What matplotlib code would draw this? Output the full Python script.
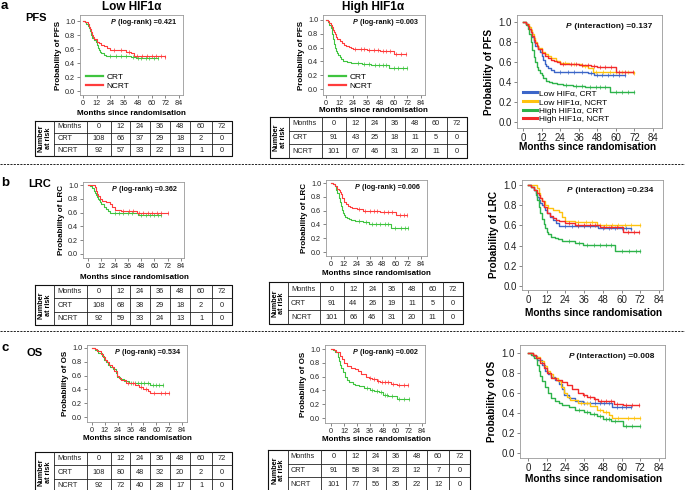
import numpy as np
import matplotlib
matplotlib.use("Agg")
import matplotlib.pyplot as plt

plt.rcParams["font.family"] = ["Liberation Sans", "DejaVu Sans"]

W, H = 685, 490

# ---- Kaplan-Meier curves (step times in months, survival after each step) ----
pfs_low_crt_t = [0, 2, 3, 4, 5, 6, 7, 8, 10, 11, 12, 13, 14, 15, 16, 18, 20, 42, 46, 66]
pfs_low_crt_s = [1.0, 0.98, 0.96, 0.93, 0.90, 0.85, 0.80, 0.76, 0.73, 0.70, 0.66, 0.62, 0.58, 0.56, 0.54, 0.52, 0.50, 0.49, 0.47, 0.47]
pfs_low_ncrt_t = [0, 2, 4, 5, 6, 7, 8, 9, 10, 12, 14, 16, 18, 21, 24, 30, 38, 42, 45, 72]
pfs_low_ncrt_s = [1.0, 0.98, 0.95, 0.92, 0.88, 0.84, 0.80, 0.77, 0.74, 0.70, 0.68, 0.66, 0.64, 0.61, 0.59, 0.58, 0.56, 0.54, 0.50, 0.49]
pfs_high_crt_t = [0, 2, 3, 4, 5, 6, 7, 8, 9, 10, 11, 12, 13, 15, 17, 19, 22, 26, 32, 40, 56, 72]
pfs_high_crt_s = [1.0, 0.97, 0.93, 0.88, 0.80, 0.72, 0.65, 0.60, 0.55, 0.52, 0.49, 0.47, 0.44, 0.41, 0.40, 0.39, 0.38, 0.37, 0.36, 0.35, 0.30, 0.30]
pfs_high_ncrt_t = [0, 2, 3, 4, 5, 6, 7, 8, 9, 10, 12, 14, 16, 18, 20, 22, 24, 30, 36, 44, 48, 60, 71]
pfs_high_ncrt_s = [1.0, 0.98, 0.96, 0.93, 0.90, 0.86, 0.82, 0.79, 0.76, 0.73, 0.69, 0.66, 0.64, 0.62, 0.61, 0.60, 0.58, 0.58, 0.57, 0.56, 0.55, 0.50, 0.50]

lrc_low_crt_t = [0, 2, 4, 5, 6, 7, 8, 9, 10, 11, 12, 14, 16, 18, 20, 45, 66]
lrc_low_crt_s = [1.0, 0.98, 0.95, 0.92, 0.88, 0.85, 0.82, 0.80, 0.78, 0.75, 0.72, 0.68, 0.65, 0.62, 0.59, 0.57, 0.56]
lrc_low_ncrt_t = [0, 6, 7, 8, 9, 11, 13, 16, 20, 22, 24, 30, 44, 72]
lrc_low_ncrt_s = [1.0, 0.97, 0.92, 0.87, 0.84, 0.80, 0.77, 0.75, 0.73, 0.68, 0.64, 0.63, 0.60, 0.60]
lrc_high_crt_t = [0, 2, 4, 5, 6, 7, 8, 9, 10, 11, 12, 13, 15, 17, 19, 22, 30, 35, 56, 72]
lrc_high_crt_s = [1.0, 0.98, 0.95, 0.90, 0.85, 0.78, 0.72, 0.66, 0.61, 0.57, 0.53, 0.51, 0.49, 0.48, 0.47, 0.45, 0.43, 0.41, 0.35, 0.35]
lrc_high_ncrt_t = [0, 2, 4, 6, 7, 8, 9, 10, 12, 14, 16, 18, 20, 24, 30, 46, 61, 71]
lrc_high_ncrt_s = [1.0, 0.98, 0.95, 0.92, 0.90, 0.87, 0.84, 0.78, 0.72, 0.69, 0.67, 0.65, 0.64, 0.62, 0.60, 0.58, 0.53, 0.53]

os_low_crt_t = [0, 3, 6, 9, 11, 13, 15, 17, 20, 22, 23, 26, 30, 35, 54, 66]
os_low_crt_s = [1.0, 0.97, 0.93, 0.88, 0.82, 0.79, 0.76, 0.73, 0.69, 0.64, 0.58, 0.55, 0.52, 0.50, 0.46, 0.46]
os_low_ncrt_t = [0, 3, 5, 8, 10, 12, 14, 16, 19, 21, 23, 25, 27, 32, 40, 44, 48, 52, 54, 72]
os_low_ncrt_s = [1.0, 0.98, 0.96, 0.92, 0.87, 0.82, 0.79, 0.75, 0.72, 0.66, 0.60, 0.56, 0.53, 0.50, 0.47, 0.43, 0.41, 0.38, 0.35, 0.35]
os_high_crt_t = [0, 2, 4, 6, 7, 8, 9, 11, 13, 15, 17, 20, 22, 26, 30, 36, 40, 44, 48, 53, 61, 72]
os_high_crt_s = [1.0, 0.98, 0.95, 0.88, 0.82, 0.77, 0.72, 0.66, 0.60, 0.55, 0.52, 0.50, 0.48, 0.46, 0.43, 0.41, 0.39, 0.37, 0.34, 0.32, 0.27, 0.27]
os_high_ncrt_t = [0, 3, 5, 8, 10, 12, 15, 18, 22, 25, 28, 32, 35, 38, 42, 45, 55, 61, 71]
os_high_ncrt_s = [1.0, 0.98, 0.95, 0.90, 0.85, 0.80, 0.75, 0.73, 0.71, 0.68, 0.64, 0.60, 0.58, 0.56, 0.54, 0.52, 0.49, 0.48, 0.48]

# censoring times (small tick marks)
pfs_low_crt_c = [24, 29, 33, 38, 44, 48, 51, 55, 58, 62, 66]
pfs_low_ncrt_c = [27, 33, 40, 47, 52, 56, 60, 64, 68, 72]
pfs_high_crt_c = [28, 34, 38, 43, 47, 50, 53, 60, 64, 68, 72]
pfs_high_ncrt_c = [26, 31, 34, 38, 42, 46, 50, 53, 57, 62, 66, 71]
lrc_low_crt_c = [24, 28, 32, 36, 40, 48, 52, 56, 60, 63, 66]
lrc_low_ncrt_c = [32, 37, 41, 46, 50, 54, 58, 62, 66, 72]
lrc_high_crt_c = [26, 33, 38, 42, 46, 50, 53, 60, 65, 69, 72]
lrc_high_ncrt_c = [26, 32, 36, 40, 43, 49, 53, 57, 64, 68, 71]
os_low_crt_c = [36, 40, 43, 46, 49, 52, 57, 60, 63, 66]
os_low_ncrt_c = [34, 38, 46, 50, 58, 64, 68, 72]
os_high_crt_c = [33, 38, 42, 46, 50, 52, 56, 63, 67, 72]
os_high_ncrt_c = [36, 40, 43, 47, 50, 53, 57, 63, 67, 71]

# numbers at risk
risk_months = [0, 12, 24, 36, 48, 60, 72]
pfs_low_risk = ([108, 66, 37, 29, 18, 2, 0], [92, 57, 33, 22, 13, 1, 0])
pfs_high_risk = ([91, 43, 25, 18, 11, 5, 0], [101, 67, 46, 31, 20, 11, 0])
lrc_low_risk = ([108, 68, 38, 29, 18, 2, 0], [92, 59, 33, 24, 13, 1, 0])
lrc_high_risk = ([91, 44, 26, 19, 11, 5, 0], [101, 66, 46, 31, 20, 11, 0])
os_low_risk = ([108, 80, 48, 32, 20, 2, 0], [92, 72, 40, 28, 17, 1, 0])
os_high_risk = ([91, 58, 34, 23, 12, 7, 0], [101, 77, 56, 35, 22, 12, 0])

p_logrank = {"PFS": ("0.421", "0.003"), "LRC": ("0.362", "0.006"), "OS": ("0.534", "0.002")}
p_interaction = {"PFS": "0.137", "LRC": "0.234", "OS": "0.008"}

SUB_GREEN, SUB_RED = "#3fc43f", "#ff3c3c"
ALL_COLORS = ["#3c66c8", "#ffc20e", "#2db34a", "#f22a2a"]
ALL_LABELS = ["Low HIF\u03b1, CRT", "Low HIF1\u03b1, NCRT", "High HIF1\u03b1, CRT", "High HIF1\u03b1, NCRT"]

fig = plt.figure(figsize=(W / 100, H / 100), dpi=100)


def add_km_axes(box, refs, fs):
    bx0, by0, bx1, by1 = box
    x0, x84, y0, y1 = refs
    ppx = (x84 - x0) / 84
    ppy = y0 - y1
    ax = fig.add_axes([bx0 / W, 1 - by1 / H, (bx1 - bx0) / W, (by1 - by0) / H])
    ax.set_xlim((bx0 - x0) / ppx, (bx1 - x0) / ppx)
    ax.set_ylim((y0 - by1) / ppy, (y0 - by0) / ppy)
    ax.set_xticks(range(0, 85, 12))
    ax.set_yticks([0, 0.2, 0.4, 0.6, 0.8, 1.0])
    ax.set_yticklabels(["0.0", "0.2", "0.4", "0.6", "0.8", "1.0"])
    ax.tick_params(labelsize=fs, length=2, width=0.5, pad=1.5, colors="#555555", labelcolor="#222222")
    for sp in ax.spines.values():
        sp.set_color("#999999")
        sp.set_linewidth(0.6)
    return ax


def km(ax, t, s, c, color, lw, label=None):
    ax.step(t, s, where="post", color=color, lw=lw, label=label)
    idx = np.searchsorted(t, c, side="right") - 1
    ax.plot(c, np.array(s)[idx], ls="none", marker="|", ms=2.2, mew=0.5, color=color)


def p_text(ax, name, value, fs):
    t = ax.text(0.93, 0.9, f" ({name}) ={value}", transform=ax.transAxes, ha="right", va="center",
                fontsize=fs, fontweight="bold", color="#111111")
    ax.annotate("P", xy=(0, 0.5), xycoords=t, ha="right", va="center", fontsize=fs,
                fontweight="bold", style="italic", color="#111111")


curves = {
    "PFS": [(pfs_low_crt_t, pfs_low_crt_s, pfs_low_crt_c), (pfs_low_ncrt_t, pfs_low_ncrt_s, pfs_low_ncrt_c),
            (pfs_high_crt_t, pfs_high_crt_s, pfs_high_crt_c), (pfs_high_ncrt_t, pfs_high_ncrt_s, pfs_high_ncrt_c)],
    "LRC": [(lrc_low_crt_t, lrc_low_crt_s, lrc_low_crt_c), (lrc_low_ncrt_t, lrc_low_ncrt_s, lrc_low_ncrt_c),
            (lrc_high_crt_t, lrc_high_crt_s, lrc_high_crt_c), (lrc_high_ncrt_t, lrc_high_ncrt_s, lrc_high_ncrt_c)],
    "OS": [(os_low_crt_t, os_low_crt_s, os_low_crt_c), (os_low_ncrt_t, os_low_ncrt_s, os_low_ncrt_c),
           (os_high_crt_t, os_high_crt_s, os_high_crt_c), (os_high_ncrt_t, os_high_ncrt_s, os_high_ncrt_c)],
}
risks = {"PFS": (pfs_low_risk, pfs_high_risk), "LRC": (lrc_low_risk, lrc_high_risk), "OS": (os_low_risk, os_high_risk)}

# layout in pixels: box (x0, y0, x1, y1) and refs (x of 0, x of 84, y of 0.0, y of 1.0)
layout = {
    "PFS": {"left": ((80, 15, 183, 95), (83, 179, 91, 21)),
            "mid": ((323, 15, 425, 95), (326, 421, 89, 20)),
            "right": ((517, 15, 662, 128), (523, 653, 122, 22)),
            "xlab": (113, 110, 147), "tables": ((35, 232, 121, 156), (270, 467, 117, 158))},
    "LRC": {"left": ((83, 182, 184, 258), (88, 181, 254, 185)),
            "mid": ((326, 180, 427, 256), (331, 421, 252, 183)),
            "right": ((522, 180, 663, 290), (528, 659, 286, 185)),
            "xlab": (277, 273, 313), "tables": ((35, 232, 285, 325), (269, 463, 282, 324))},
    "OS": {"left": ((87, 345, 187, 422), (92, 182, 417, 348)),
           "mid": ((325, 345, 425, 423), (331, 422, 418, 349)),
           "right": ((520, 345, 665, 458), (528, 659, 453, 353)),
           "xlab": (438, 439, 479), "tables": ((35, 232, 452, 492), (268, 470, 450, 491))},
}

for name in ["PFS", "LRC", "OS"]:
    lay = layout[name]
    low_crt, low_ncrt, high_crt, high_ncrt = curves[name]
    for key, (crt, ncrt), pv in [("left", (low_crt, low_ncrt), p_logrank[name][0]),
                                 ("mid", (high_crt, high_ncrt), p_logrank[name][1])]:
        ax = add_km_axes(*lay[key], fs=5.2)
        km(ax, *crt, SUB_GREEN, 0.8, "CRT")
        km(ax, *ncrt, SUB_RED, 0.8, "NCRT")
        ax.set_ylabel(f"Probability of {name}", fontsize=5.8, fontweight="bold", labelpad=2)
        p_text(ax, "log-rank", pv, 5.2)
        if name == "PFS":
            leg = ax.legend(loc="lower left", bbox_to_anchor=(0.0, -0.01), frameon=False, fontsize=6,
                            handlelength=2.0, handletextpad=0.5, labelspacing=0.15, borderpad=0.2)
            for h in leg.get_lines():
                h.set_linewidth(1.6)
    ax = add_km_axes(*lay["right"], fs=7)
    for (t, s, c), col, lab in zip(curves[name], ALL_COLORS, ALL_LABELS):
        km(ax, t, s, c, col, 1.0, lab)
    ax.set_ylabel(f"Probability of {name}", fontsize=7.2, fontweight="bold", labelpad=3)
    p_text(ax, "interaction", p_interaction[name], 6)
    if name == "PFS":
        leg = ax.legend(loc="lower left", bbox_to_anchor=(0.0, -0.01), frameon=False, fontsize=6,
                        handlelength=1.7, handletextpad=0.3, labelspacing=0.1, borderpad=0.2)
        for h in leg.get_lines():
            h.set_linewidth(2.2)

# ---- overlay in pixel coordinates: labels, tables, separators ----
ov = fig.add_axes([0, 0, 1, 1])
ov.set_xlim(0, W)
ov.set_ylim(H, 0)
ov.axis("off")
ov.patch.set_alpha(0)

col_w = [19, 32, 24, 19, 19, 20, 20, 21, 20]


def draw_table(x0, x1, y0, y1, crt, ncrt):
    widths = np.array(col_w) / sum(col_w) * (x1 - x0)
    edges = x0 + np.concatenate([[0], np.cumsum(widths)])
    rh = (y1 - y0) / 3
    kw = dict(color="#222222", lw=0.6, clip_on=False)
    ov.plot([x0, x1, x1, x0, x0], [y0, y0, y1, y1, y0], color="#111111", lw=0.8)
    for e in edges[1:-1]:
        ov.plot([e, e], [y0, y1], **kw)
    for r in (1, 2):
        ov.plot([edges[1], x1], [y0 + r * rh, y0 + r * rh], **kw)
    ov.text((edges[0] + edges[1]) / 2, (y0 + y1) / 2, "Number\nat risk", rotation=90, ha="center",
            va="center", fontsize=5.2, fontweight="bold", linespacing=0.95)
    rows = [("Months", risk_months), ("CRT", crt), ("NCRT", ncrt)]
    for r, (lab, vals) in enumerate(rows):
        yc = y0 + (r + 0.5) * rh
        ov.text(edges[1] + 3, yc, lab, ha="left", va="center", fontsize=5.3, color="#222222")
        for j, v in enumerate(vals):
            ov.text((edges[j + 2] + edges[j + 3]) / 2, yc, str(v), ha="center", va="center",
                    fontsize=5.3, color="#222222")


for name in ["PFS", "LRC", "OS"]:
    lay = layout[name]
    for key, yx in zip(["left", "mid", "right"], lay["xlab"]):
        refs = lay[key][1]
        xc = (refs[0] + refs[1]) / 2
        fs = 7.3 if key == "right" else 5.8
        ov.text(xc, yx, "Months since randomisation", ha="center", va="center", fontsize=fs,
                fontweight="bold")
    low, high = risks[name]
    draw_table(*lay["tables"][0], *low)
    draw_table(*lay["tables"][1], *high)

ov.text(132, 7, "Low HIF1\u03b1", ha="center", va="center", fontsize=8.5, fontweight="bold")
ov.text(373, 7, "High HIF1\u03b1", ha="center", va="center", fontsize=8.5, fontweight="bold")
ov.text(36, 18, "PFS", ha="center", va="center", fontsize=8, fontweight="bold")
ov.text(40, 184, "LRC", ha="center", va="center", fontsize=8, fontweight="bold")
ov.text(35, 353, "OS", ha="center", va="center", fontsize=8, fontweight="bold")
ov.text(4, 6, "a", ha="center", va="center", fontsize=9.5, fontweight="bold")
ov.text(5, 183, "b", ha="center", va="center", fontsize=9.5, fontweight="bold")
ov.text(5, 348, "c", ha="center", va="center", fontsize=9.5, fontweight="bold")

for y in (164, 331):
    ov.plot([0, W], [y, y], color="#222222", lw=0.7, ls=(0, (2.2, 1.2)))

fig.savefig("out.png", dpi=100)
